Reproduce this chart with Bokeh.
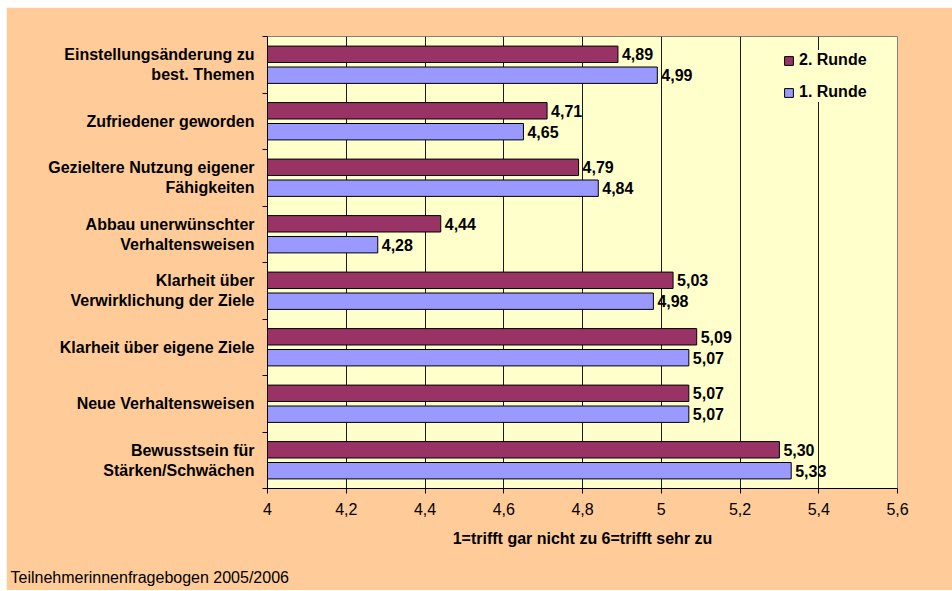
from bokeh.plotting import figure
from bokeh.models import (ColumnDataSource, Range1d, FixedTicker, Title, Legend, LegendItem)
from bokeh.core.properties import value
from bokeh.embed import file_html
from bokeh.resources import INLINE

categories = [
    "Einstellungsänderung zu\nbest. Themen",
    "Zufriedener geworden",
    "Gezieltere Nutzung eigener\nFähigkeiten",
    "Abbau unerwünschter\nVerhaltensweisen",
    "Klarheit über\nVerwirklichung der Ziele",
    "Klarheit über eigene Ziele",
    "Neue Verhaltensweisen",
    "Bewusstsein für\nStärken/Schwächen",
]
runde2 = [4.89, 4.71, 4.79, 4.44, 5.03, 5.09, 5.07, 5.30]
runde1 = [4.99, 4.65, 4.84, 4.28, 4.98, 5.07, 5.07, 5.33]
x_ticks = [4.0, 4.2, 4.4, 4.6, 4.8, 5.0, 5.2, 5.4, 5.6]
x_tick_labels = ["4", "4,2", "4,4", "4,6", "4,8", "5", "5,2", "5,4", "5,6"]
series_names = ["2. Runde", "1. Runde"]
x_title = "1=trifft gar nicht zu 6=trifft sehr zu"
footer = "Teilnehmerinnenfragebogen 2005/2006"

FONT = "Liberation Sans"
RED = "#993366"
BLUE = "#9999FF"
BG = "#FFCC99"
PLOT_BG = "#FFFFCC"

n = len(categories)
centers = [n - i - 0.5 for i in range(n)]
boundaries = list(range(n + 1))
off = 0.185
bh = 0.29

def fmt(v):
    return f"{v:.2f}".replace(".", ",")

src2 = ColumnDataSource(dict(y=[c + off for c in centers], right=runde2,
                             lab=[fmt(v) for v in runde2]))
src1 = ColumnDataSource(dict(y=[c - off for c in centers], right=runde1,
                             lab=[fmt(v) for v in runde1]))

p = figure(width=946, height=583, output_backend="svg", toolbar_location=None,
           x_range=Range1d(x_ticks[0], x_ticks[-1]), y_range=Range1d(0, n),
           min_border_left=261, min_border_right=55, min_border_top=29,
           min_border_bottom=102, margin=(7, 0, 0, 6))
p.border_fill_color = BG
p.background_fill_color = PLOT_BG
p.outline_line_color = "#808080"
p.outline_line_width = 1

r2 = p.hbar(y="y", left=x_ticks[0], right="right", height=bh, source=src2,
            fill_color=RED, line_color="black", line_width=1)
r1 = p.hbar(y="y", left=x_ticks[0], right="right", height=bh, source=src1,
            fill_color=BLUE, line_color="black", line_width=1)

for s in (src2, src1):
    p.text(x="right", y="y", text="lab", source=s, x_offset=4,
           text_baseline="middle", text_align="left",
           text_font=value(FONT), text_font_style="bold",
           text_font_size="16px", text_color="black")

# x axis
xt = FixedTicker(ticks=x_ticks)
p.xaxis.ticker = xt
p.xaxis.major_label_overrides = {t: l for t, l in zip(x_ticks, x_tick_labels)}
p.xaxis.major_label_text_font = FONT
p.xaxis.major_label_text_font_size = "16px"
p.xaxis.major_label_text_color = "black"
p.xaxis.major_label_standoff = 9
p.xaxis.major_tick_out = 5
p.xaxis.major_tick_in = 0
p.xaxis.major_tick_line_color = "black"
p.xaxis.axis_line_color = "black"
p.xaxis.axis_label = x_title
p.xaxis.axis_label_text_font = FONT
p.xaxis.axis_label_text_font_style = "bold"
p.xaxis.axis_label_text_font_size = "16px"
p.xaxis.axis_label_text_color = "black"
p.xaxis.axis_label_standoff = 12

# y axis
yt = FixedTicker(ticks=centers, minor_ticks=boundaries)
p.yaxis.ticker = yt
p.yaxis.major_label_overrides = {c: lab for c, lab in zip(centers, categories)}
p.yaxis.major_label_text_font = FONT
p.yaxis.major_label_text_font_style = "bold"
p.yaxis.major_label_text_font_size = "16px"
p.yaxis.major_label_text_color = "black"
p.yaxis.major_label_text_line_height = 1.15
p.yaxis.major_tick_line_color = None
p.yaxis.major_tick_out = 5
p.yaxis.major_tick_in = 0
p.yaxis.major_label_standoff = 8
p.yaxis.minor_tick_line_color = "black"
p.yaxis.minor_tick_out = 5
p.yaxis.minor_tick_in = 0
p.yaxis.axis_line_color = "black"

p.xgrid.ticker = xt
p.xgrid.grid_line_color = "#1a1a1a"
p.xgrid.grid_line_width = 1
p.ygrid.visible = False

legend = Legend(items=[LegendItem(label=series_names[0], renderers=[r2]),
                       LegendItem(label=series_names[1], renderers=[r1])],
                location="top_right", margin=14, padding=8, spacing=12,
                glyph_width=11, glyph_height=11, label_height=20,
                label_width=84, label_standoff=5,
                background_fill_color=PLOT_BG, background_fill_alpha=1,
                border_line_color=None,
                label_text_font=FONT, label_text_font_style="bold",
                label_text_font_size="16px", label_text_color="black")
p.add_layout(legend)

p.add_layout(Title(text="\n" + footer, align="left", offset=-257, standoff=0,
                   text_line_height=1.05,
                   text_font=FONT, text_font_size="16px",
                   text_font_style="normal", text_color="black"), "below")

open("out.html", "w").write(file_html(p, INLINE))
